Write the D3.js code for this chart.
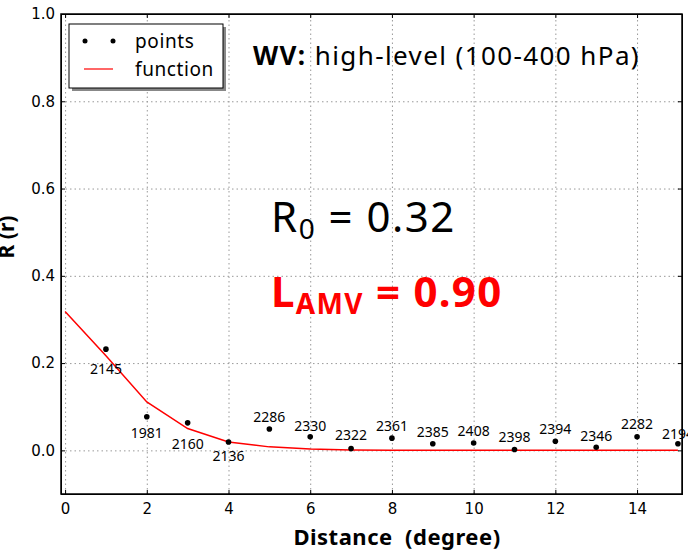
<!DOCTYPE html>
<html>
<head>
<meta charset="utf-8">
<script src="https://cdn.jsdelivr.net/npm/d3@7"></script>
<style>
  body { margin: 0; background: #fff; }
  svg { display: block; }
  .grid line { stroke: #999; stroke-dasharray: 1.5,3; }
  .grid path { display: none; }
  .ax text { font-family: 'DejaVu Sans', sans-serif; font-size: 15px; fill: #000; }
  .ax path, .ax line { stroke: #000; }
</style>
</head>
<body>
<div id="chart"></div>
<script>
// correlation vs distance, WV high-level
const distances = [1, 2, 3, 4, 5, 6, 7, 8, 9, 10, 11, 12, 13, 14, 15];
const pointValues = [0.232, 0.077, 0.063, 0.019, 0.049, 0.031, 0.004, 0.028, 0.015, 0.017, 0.002, 0.021, 0.007, 0.031, 0.015];
const pairCounts = ['2145', '1981', '2160', '2136', '2286', '2330', '2322', '2361', '2385', '2408', '2398', '2394', '2346', '2282', '2194'];
const funcX = [0, 1, 2, 3, 4, 5, 6, 7, 8, 9, 10, 11, 12, 13, 14, 15];
const funcValues = [0.318, 0.217, 0.111, 0.05, 0.019, 0.008, 0.003, 0.001, 0, 0, 0, 0, 0, 0, 0, 0];
const xTicks = [0, 2, 4, 6, 8, 10, 12, 14];
const yTicks = [0.0, 0.2, 0.4, 0.6, 0.8, 1.0];
// label placement: below for the first four points, above for the rest
const labelDy = [20, 16, 21, 14, -12, -11, -14, -12, -12, -12, -12, -12, -11, -13, -10];

const W = 688, H = 552;
const plotL = 61, plotR = 682, plotT = 14, plotB = 494;

const svg = d3.select('#chart').append('svg').attr('width', W).attr('height', H);

const x = d3.scaleLinear().domain([-0.1, 15.1]).range([plotL, plotR]);
const y = d3.scaleLinear().domain([-0.1, 1.0]).range([plotB, plotT]);

// grid
svg.append('g').attr('class', 'grid')
  .attr('transform', `translate(0,${plotB})`)
  .call(d3.axisBottom(x).tickValues(xTicks).tickSize(-(plotB - plotT)).tickFormat(''));
svg.append('g').attr('class', 'grid')
  .attr('transform', `translate(${plotL},0)`)
  .call(d3.axisLeft(y).tickValues(yTicks).tickSize(-(plotR - plotL)).tickFormat(''));

// axes with inward ticks
svg.append('g').attr('class', 'ax')
  .attr('transform', `translate(0,${plotB})`)
  .call(d3.axisBottom(x).tickValues(xTicks).tickSize(-4).tickPadding(9).tickFormat(d3.format('d')));
svg.append('g').attr('class', 'ax')
  .attr('transform', `translate(0,${plotT})`)
  .call(d3.axisTop(x).tickValues(xTicks).tickSize(-4).tickFormat(''));
svg.append('g').attr('class', 'ax')
  .attr('transform', `translate(${plotL},0)`)
  .call(d3.axisLeft(y).tickValues(yTicks).tickSize(-4).tickPadding(6).tickFormat(d3.format('.1f')));
svg.append('g').attr('class', 'ax')
  .attr('transform', `translate(${plotR},0)`)
  .call(d3.axisRight(y).tickValues(yTicks).tickSize(-4).tickFormat(''));

svg.append('rect')
  .attr('x', plotL).attr('y', plotT)
  .attr('width', plotR - plotL).attr('height', plotB - plotT)
  .attr('fill', 'none').attr('stroke', '#000').attr('stroke-width', 1.5);

// function line
const line = d3.line().x((d, i) => x(funcX[i])).y(d => y(d));
svg.append('path').datum(funcValues)
  .attr('fill', 'none').attr('stroke', 'red').attr('stroke-width', 1.5)
  .attr('d', line);

// points
svg.append('g').selectAll('circle')
  .data(pointValues)
  .enter()
  .append('circle')
  .attr('cx', (d, i) => x(distances[i]))
  .attr('cy', d => y(d))
  .attr('r', 2.8)
  .attr('fill', '#000');

svg.append('g').selectAll('text')
  .data(pairCounts)
  .enter()
  .append('text')
  .attr('x', (d, i) => x(distances[i]))
  .attr('y', (d, i) => y(pointValues[i]) + labelDy[i])
  .attr('dy', '0.35em')
  .attr('text-anchor', 'middle')
  .style('font-family', "'Noto Sans', sans-serif")
  .style('font-size', '14px')
  .text(d => d);

// legend
const lg = svg.append('g');
lg.append('rect').attr('x', 72).attr('y', 27).attr('width', 154).attr('height', 64).attr('fill', '#888');
lg.append('rect').attr('x', 69).attr('y', 24).attr('width', 154).attr('height', 64)
  .attr('fill', '#fff').attr('stroke', '#000').attr('stroke-width', 1);
lg.append('circle').attr('cx', 85).attr('cy', 41).attr('r', 2.5).attr('fill', '#000');
lg.append('circle').attr('cx', 113).attr('cy', 41).attr('r', 2.5).attr('fill', '#000');
lg.append('line').attr('x1', 84).attr('x2', 113).attr('y1', 69).attr('y2', 69).attr('stroke', 'red').attr('stroke-width', 1.2);
lg.append('text').attr('x', 135).attr('y', 48).style('font-family', "'Noto Sans', sans-serif")
  .style('font-size', '19px').style('letter-spacing', '0.6px').text('points');
lg.append('text').attr('x', 135).attr('y', 76).style('font-family', "'Noto Sans', sans-serif")
  .style('font-size', '19px').style('letter-spacing', '0.6px').text('function');

// annotations
const title = svg.append('text').attr('x', 253).attr('y', 65)
  .style('font-family', "'Noto Sans', sans-serif").style('font-size', '26px').style('letter-spacing', '1.4px');
title.append('tspan').style('font-weight', 'bold').text('WV:');
title.append('tspan').text(' high-level (100-400 hPa)');

const r0 = svg.append('text').attr('x', 271).attr('y', 232)
  .style('font-family', "'Noto Sans', sans-serif").style('font-size', '42px').style('letter-spacing', '1.5px');
r0.append('tspan').text('R');
r0.append('tspan').attr('dy', 7).style('font-size', '28px').text('0');
r0.append('tspan').attr('dy', -7).text(' = 0.32');

const lamv = svg.append('text').attr('x', 271).attr('y', 307)
  .style('font-family', "'Noto Sans', sans-serif").style('font-size', '42px').style('letter-spacing', '1.3px')
  .style('font-weight', 'bold').attr('fill', 'red');
lamv.append('tspan').text('L');
lamv.append('tspan').attr('dy', 7).style('font-size', '28px').text('AMV');
lamv.append('tspan').attr('dy', -7).text(' = 0.90');

// axis titles
svg.append('text').attr('x', 397).attr('y', 545).attr('text-anchor', 'middle')
  .style('font-family', "'Noto Sans', sans-serif").style('font-size', '22px').style('font-weight', 'bold')
  .style('letter-spacing', '0.5px').style('white-space', 'pre').text('Distance  (degree)');
svg.append('text').attr('transform', 'translate(14,237) rotate(-90)').attr('text-anchor', 'middle')
  .style('font-family', "'Noto Sans', sans-serif").style('font-size', '21px').style('font-weight', 'bold')
  .text('R (r)');
</script>
</body>
</html>
